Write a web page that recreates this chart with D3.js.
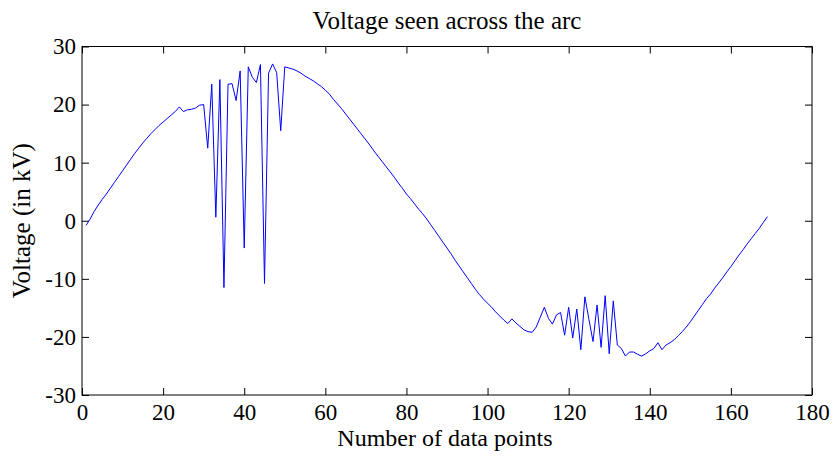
<!DOCTYPE html>
<html>
<head>
<meta charset="utf-8">
<script src="https://cdn.jsdelivr.net/npm/d3@7"></script>
<style>
  body { margin: 0; background: #fff; }
  text { font-family: "Liberation Serif", "Times New Roman", serif; fill: #000; }
</style>
</head>
<body>
<script>
// voltage (kV) per sample, samples 1..169
var voltage = [
  -0.8, 0.3, 1.6, 2.7, 3.7, 4.6, 5.6, 6.6, 7.6, 8.6, 9.6, 10.6, 11.6, 12.5, 13.4, 14.2, 15.0, 15.7, 16.4, 17.0, 17.6, 18.2, 18.8, 19.6,
  18.8, 19.1, 19.2, 19.4, 19.9, 20.0, 12.5, 23.5, 0.6, 24.3, -11.5, 23.5, 23.6, 20.7, 25.8, -4.7, 26.5, 24.7, 23.8, 26.9, -10.8, 25.4, 27.0, 25.5, 15.5, 26.5,
  26.3, 26.1, 25.8, 25.4, 24.9, 24.5, 24.1, 23.6, 23.1, 22.5, 21.8,
  20.9, 20.1, 19.3, 18.4, 17.5, 16.6, 15.7, 14.8, 13.9, 13.0, 12.0, 11.1, 10.2, 9.3, 8.4, 7.5, 6.5, 5.6, 4.6,
  3.8, 2.9, 2.0, 1.2, 0.3, -0.7, -1.7, -2.7, -3.7, -4.7, -5.7, -6.8, -7.8, -8.8, -9.8, -10.8, -11.8, -12.7, -13.5, -14.2, -14.9, -15.7, -16.4, -17.1, -17.7,
  -16.9, -17.6, -18.2, -18.8, -19.1, -19.2,
  -18.3, -16.6, -14.9, -16.8, -17.8, -16.2, -15.8, -19.7, -14.9, -20.2, -15.2, -22.2, -13.1, -17.0, -20.8, -14.5, -21.8, -12.9, -22.9, -13.8, -21.4, -22.0,
  -23.3, -22.6, -22.6, -23.0, -23.3, -22.9, -22.4, -22.0, -21.0, -22.2, -21.4, -21.0, -20.5, -19.8, -19.1, -18.3, -17.4,
  -16.4, -15.4, -14.4, -13.4, -12.6, -11.6, -10.7, -9.8, -8.8, -7.9, -6.9, -5.9, -5.0, -4.0, -3.1, -2.2, -1.3, -0.3, 0.7
]

var xTicks = [0, 20, 40, 60, 80, 100, 120, 140, 160, 180]
var yTicks = [-30, -20, -10, 0, 10, 20, 30]

var title = "Voltage seen across the arc",
    xLabel = "Number of data points",
    yLabel = "Voltage (in kV)"

var width = 835,
    height = 456,
    plotL = 82, plotR = 812, plotT = 46.5, plotB = 395

var svg = d3.select("body").append("svg")
    .attr("width", width)
    .attr("height", height)

var x = d3.scaleLinear().domain([0, 180]).range([plotL, plotR])
var y = d3.scaleLinear().domain([-30, 30]).range([plotB, plotT])

// plain hyphen for negatives, like the original
var fmt = function (d) { return String(d) }

/* axes with inward ticks, mirrored on top and right */
function styleAxis(g) {
  g.select(".domain").remove()
  g.selectAll(".tick line").attr("stroke", "#000")
  g.selectAll(".tick text").attr("font-size", 23)
}

svg.append("g")
    .attr("transform", "translate(0," + plotB + ")")
    .call(d3.axisBottom(x).tickValues(xTicks).tickSize(-7).tickPadding(8.5).tickFormat(fmt))
    .call(styleAxis)

svg.append("g")
    .attr("transform", "translate(0," + plotT + ")")
    .call(d3.axisTop(x).tickValues(xTicks).tickSize(-7).tickFormat(""))
    .call(styleAxis)

svg.append("g")
    .attr("transform", "translate(" + plotL + ",0)")
    .call(d3.axisLeft(y).tickValues(yTicks).tickSize(-7).tickPadding(6).tickFormat(fmt))
    .call(styleAxis)

svg.append("g")
    .attr("transform", "translate(" + plotR + ",0)")
    .call(d3.axisRight(y).tickValues(yTicks).tickSize(-7).tickFormat(""))
    .call(styleAxis)

svg.append("rect")
    .attr("x", plotL)
    .attr("y", plotT)
    .attr("width", plotR - plotL)
    .attr("height", plotB - plotT)
    .attr("fill", "none")
    .attr("stroke", "#000")

/* the trace */
var line = d3.line()
    .x(function (d, i) { return x(i + 1) })
    .y(function (d) { return y(d) })

svg.append("path")
    .datum(voltage)
    .attr("d", line)
    .attr("fill", "none")
    .attr("stroke", "#0000ff")
    .attr("stroke-width", 1)

/* labels */
svg.append("text")
    .attr("x", (plotL + plotR) / 2)
    .attr("y", 29)
    .attr("text-anchor", "middle")
    .attr("font-size", 25)
    .text(title)

svg.append("text")
    .attr("x", (plotL + plotR) / 2 - 2)
    .attr("y", 445.5)
    .attr("text-anchor", "middle")
    .attr("font-size", 24)
    .text(xLabel)

svg.append("text")
    .attr("transform", "translate(30," + (plotT + plotB) / 2 + ") rotate(-90)")
    .attr("text-anchor", "middle")
    .attr("font-size", 25)
    .text(yLabel)
</script>
</body>
</html>
